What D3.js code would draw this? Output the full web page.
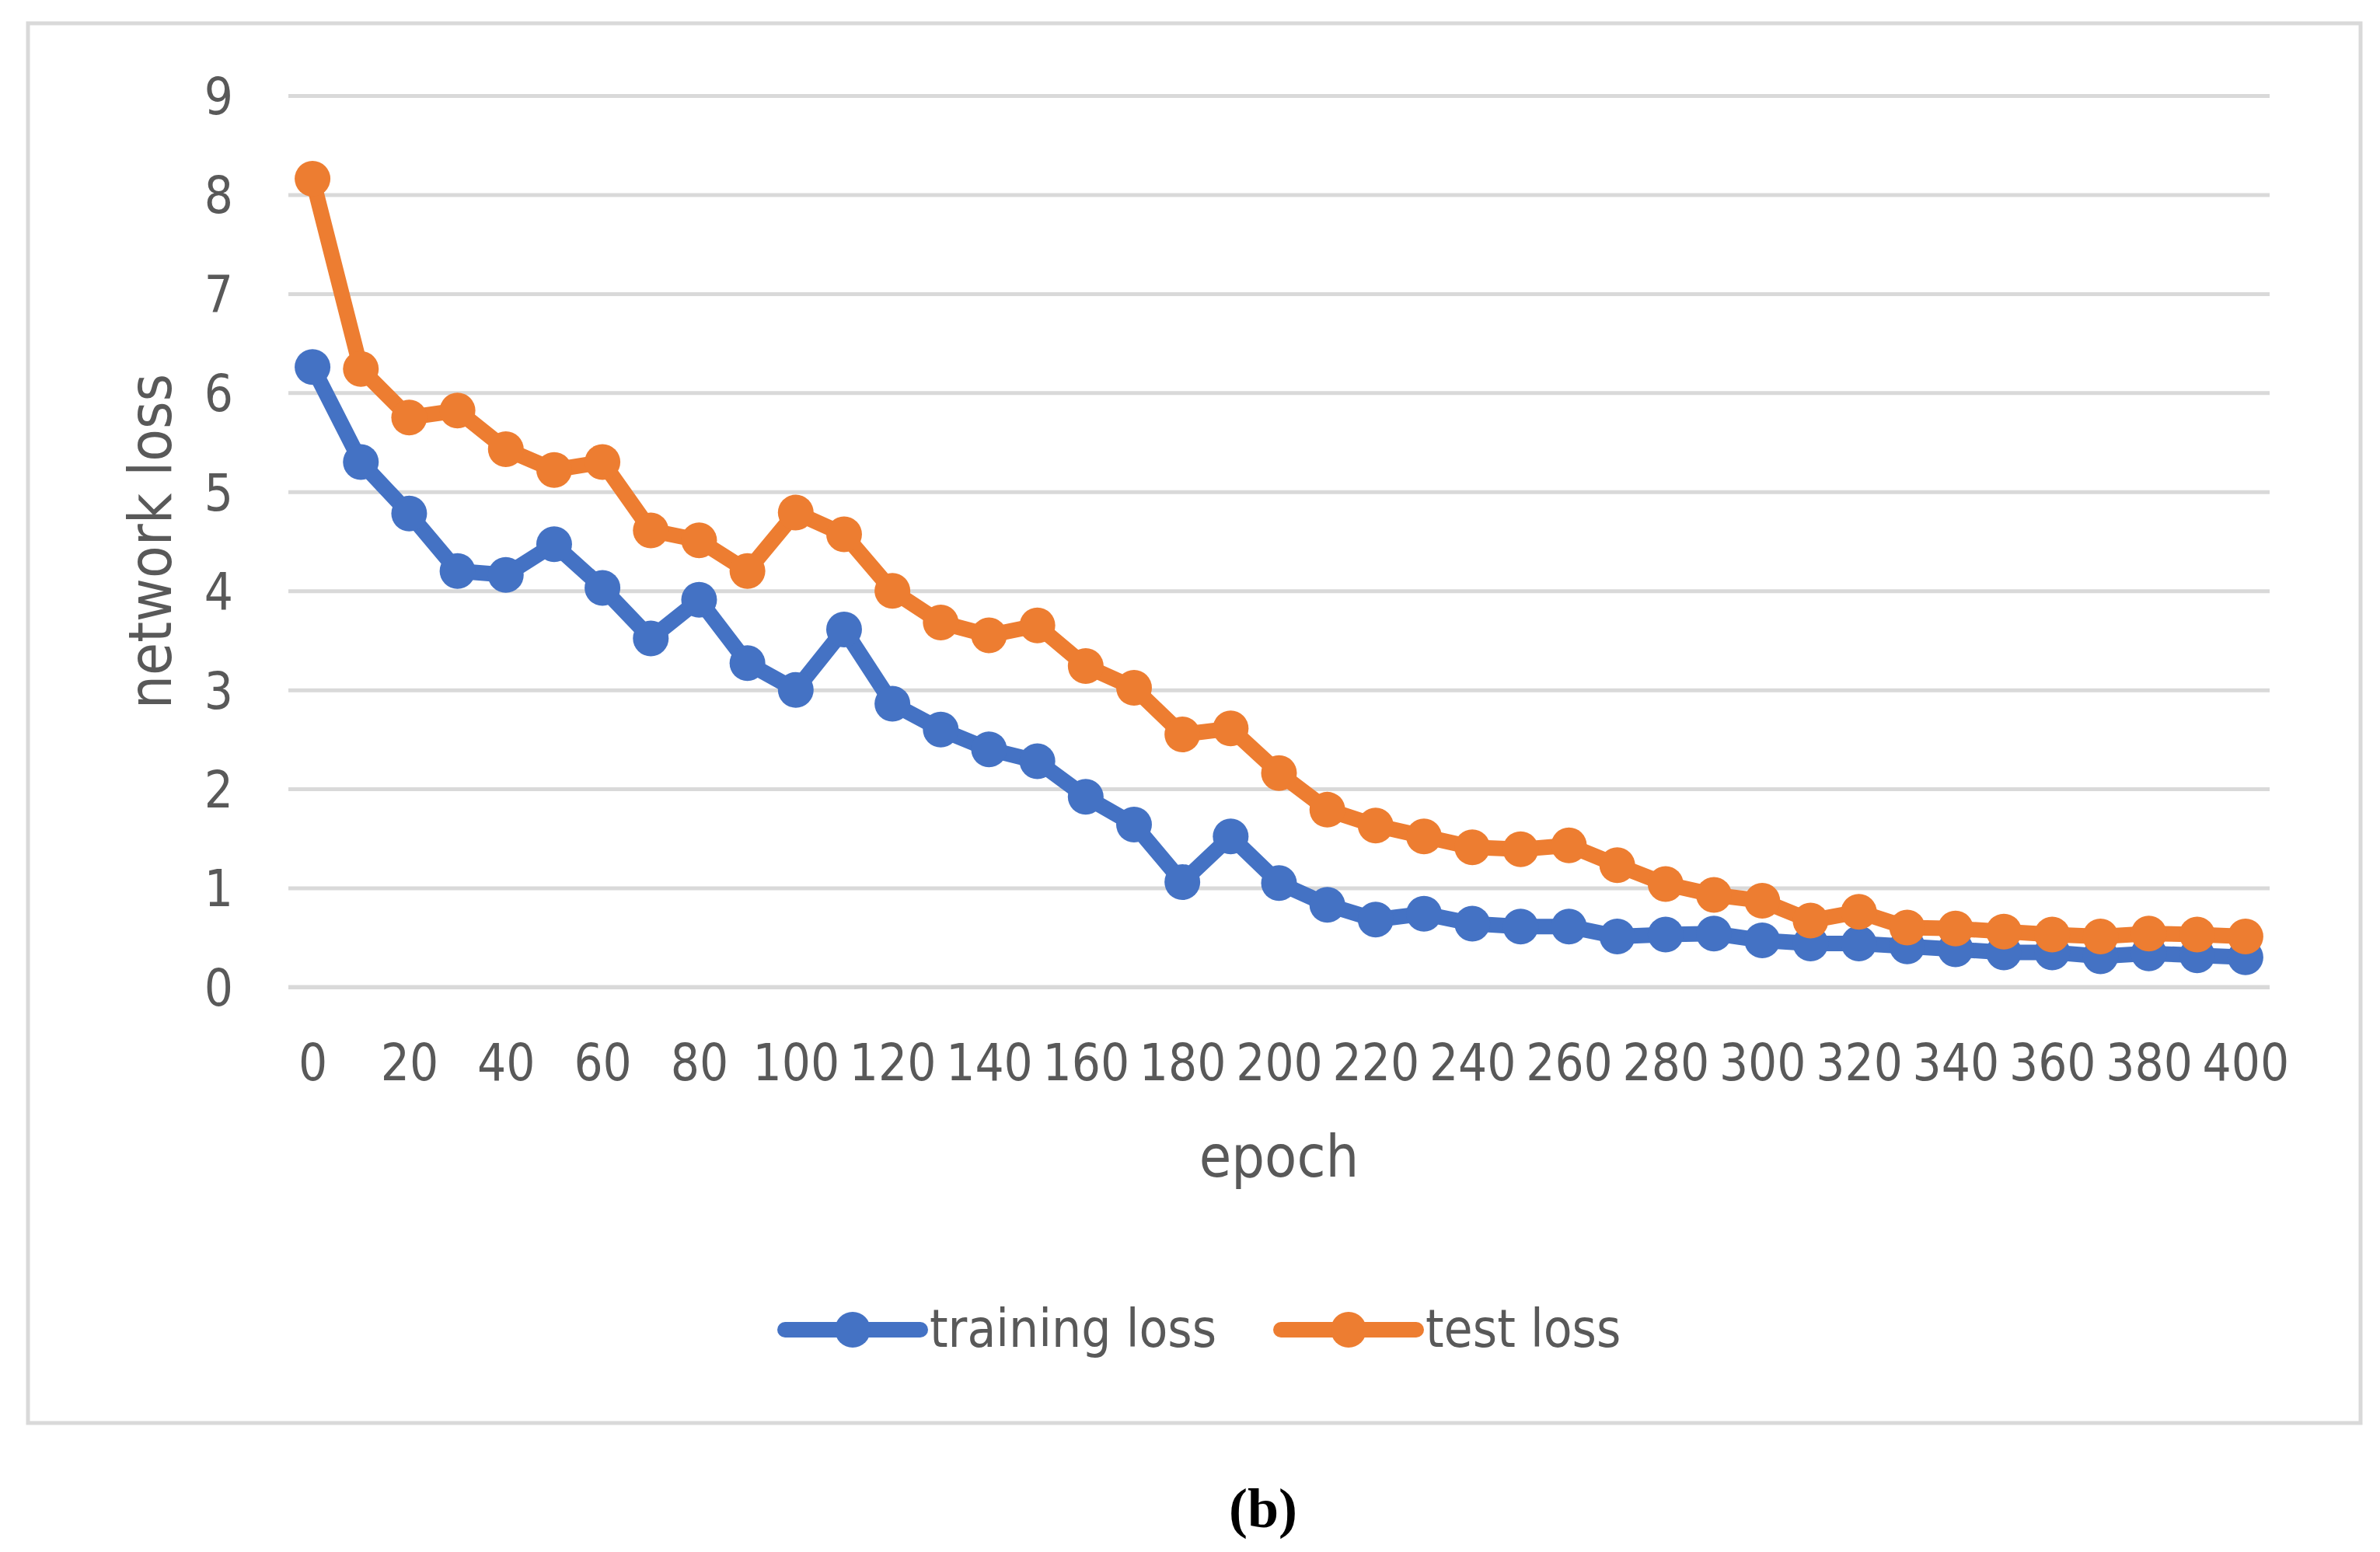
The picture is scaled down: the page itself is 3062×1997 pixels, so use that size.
<!DOCTYPE html>
<html>
<head>
<meta charset="utf-8">
<script src="https://cdn.jsdelivr.net/npm/d3@7"></script>
<style>
  body { margin: 0; background: #ffffff; }
  svg { display: block; }
</style>
</head>
<body>
<div id="vis"></div>
<script>
// Data: epochs 0..400 step 10
const EPOCHS = [0, 10, 20, 30, 40, 50, 60, 70, 80, 90,
                100, 110, 120, 130, 140, 150, 160, 170, 180, 190,
                200, 210, 220, 230, 240, 250, 260, 270, 280, 290,
                300, 310, 320, 330, 340, 350, 360, 370, 380, 390, 400];

const TRAINING_LOSS = [6.26, 5.3, 4.78, 4.2, 4.16, 4.47, 4.03, 3.52, 3.91, 3.27,
                       3.0, 3.61, 2.86, 2.6, 2.4, 2.28, 1.92, 1.64, 1.06, 1.52,
                       1.05, 0.83, 0.68, 0.74, 0.64, 0.61, 0.61, 0.51, 0.53, 0.54,
                       0.47, 0.44, 0.44, 0.41, 0.38, 0.35, 0.35, 0.31, 0.34, 0.32, 0.3];

const TEST_LOSS = [8.16, 6.24, 5.75, 5.82, 5.43, 5.22, 5.3, 4.61, 4.51, 4.2,
                   4.79, 4.57, 4.0, 3.68, 3.55, 3.65, 3.24, 3.02, 2.55, 2.61,
                   2.16, 1.79, 1.63, 1.52, 1.41, 1.39, 1.43, 1.23, 1.04, 0.93,
                   0.87, 0.67, 0.76, 0.6, 0.59, 0.56, 0.53, 0.51, 0.54, 0.53, 0.51];

const Y_TICKS = [0, 1, 2, 3, 4, 5, 6, 7, 8, 9];
const X_TICK_LABELS = EPOCHS.filter((d) => d % 20 === 0);

const SERIES_NAMES = ["training loss", "test loss"];
const SERIES_COLORS = ["#4472C4", "#ED7D31"];

// Frame and plot area
const FRAME_WIDTH = 3062;
const FRAME_HEIGHT = 1997;
const PLOT = {left: 371, right: 2920, top: 123, bottom: 1270};

const TICK_FONT = "'DejaVu Sans Condensed', 'DejaVu Sans', sans-serif";
const TEXT_GREY = "#595959";
const GRID_GREY = "#d9d9d9";

const FRAME = d3.select("#vis")
                .append("svg")
                  .attr("width", FRAME_WIDTH)
                  .attr("height", FRAME_HEIGHT);

FRAME.append("rect")
     .attr("width", FRAME_WIDTH)
     .attr("height", FRAME_HEIGHT)
     .attr("fill", "#ffffff");

// Chart border
FRAME.append("rect")
     .attr("x", 36)
     .attr("y", 30)
     .attr("width", 3001)
     .attr("height", 1801)
     .attr("fill", "none")
     .attr("stroke", GRID_GREY)
     .attr("stroke-width", 5);

// Scales
const X_SCALE = d3.scalePoint()
                  .domain(EPOCHS)
                  .range([PLOT.left, PLOT.right])
                  .padding(0.5);

const Y_SCALE = d3.scaleLinear()
                  .domain([0, 9])
                  .range([PLOT.bottom, PLOT.top]);

// Y axis with gridlines
const yAxis = FRAME.append("g")
     .attr("transform", "translate(" + PLOT.left + ",0)")
     .call(d3.axisLeft(Y_SCALE)
             .tickValues(Y_TICKS)
             .tickSizeInner(-(PLOT.right - PLOT.left))
             .tickSizeOuter(0)
             .tickPadding(71));
yAxis.select(".domain").remove();
yAxis.selectAll(".tick line")
     .attr("stroke", GRID_GREY)
     .attr("stroke-width", 5);
yAxis.selectAll(".tick text")
     .attr("fill", TEXT_GREY)
     .attr("font-family", TICK_FONT)
     .attr("font-size", "65px")
     .attr("dy", "0.36em");

// X axis
const xAxis = FRAME.append("g")
     .attr("transform", "translate(0," + PLOT.bottom + ")")
     .call(d3.axisBottom(X_SCALE)
             .tickValues(X_TICK_LABELS)
             .tickSize(0));
xAxis.select(".domain")
     .attr("stroke", GRID_GREY)
     .attr("stroke-width", 5)
     .attr("d", "M" + PLOT.left + ",0H" + PLOT.right);
xAxis.selectAll(".tick text")
     .attr("fill", TEXT_GREY)
     .attr("font-family", TICK_FONT)
     .attr("font-size", "65px")
     .attr("dy", null)
     .attr("y", 120);

// Axis titles
FRAME.append("text")
     .attr("transform", "translate(220," + ((PLOT.top + PLOT.bottom) / 2) + ") rotate(-90)")
     .attr("text-anchor", "middle")
     .attr("fill", TEXT_GREY)
     .attr("font-family", TICK_FONT)
     .attr("font-size", "76px")
     .text("network loss");

FRAME.append("text")
     .attr("x", (PLOT.left + PLOT.right) / 2)
     .attr("y", 1514)
     .attr("text-anchor", "middle")
     .attr("fill", TEXT_GREY)
     .attr("font-family", TICK_FONT)
     .attr("font-size", "75px")
     .text("epoch");

// Lines and markers
const SERIES = [TRAINING_LOSS, TEST_LOSS];
const lineGen = d3.line()
                  .x((d, i) => X_SCALE(EPOCHS[i]))
                  .y((d) => Y_SCALE(d));

SERIES.forEach((values, s) => {
  FRAME.append("path")
       .attr("d", lineGen(values))
       .attr("fill", "none")
       .attr("stroke", SERIES_COLORS[s])
       .attr("stroke-width", 20)
       .attr("stroke-linejoin", "round");

  FRAME.selectAll(".pt" + s)
       .data(values)
       .enter()
       .append("circle")
         .attr("cx", (d, i) => X_SCALE(EPOCHS[i]))
         .attr("cy", (d) => Y_SCALE(d))
         .attr("r", 23)
         .attr("fill", SERIES_COLORS[s]);
});

// Legend
const LEGEND_X = [1010, 1648];
const LEGEND_Y = 1711;
SERIES_NAMES.forEach((name, s) => {
  const g = FRAME.append("g")
                 .attr("transform", "translate(" + LEGEND_X[s] + "," + LEGEND_Y + ")");
  g.append("line")
   .attr("x1", 0)
   .attr("x2", 174)
   .attr("stroke", SERIES_COLORS[s])
   .attr("stroke-width", 20)
   .attr("stroke-linecap", "round");
  g.append("circle")
   .attr("cx", 87)
   .attr("r", 23)
   .attr("fill", SERIES_COLORS[s]);
  g.append("text")
   .attr("x", 186)
   .attr("y", 22)
   .attr("fill", TEXT_GREY)
   .attr("font-family", TICK_FONT)
   .attr("font-size", "67px")
   .text(name);
});

// Caption
FRAME.append("text")
     .attr("x", 1625)
     .attr("y", 1965)
     .attr("text-anchor", "middle")
     .attr("font-family", "'Liberation Serif', 'Times New Roman', serif")
     .attr("font-weight", "bold")
     .attr("font-size", "72px")
     .attr("fill", "#000000")
     .text("(b)");
</script>
</body>
</html>
